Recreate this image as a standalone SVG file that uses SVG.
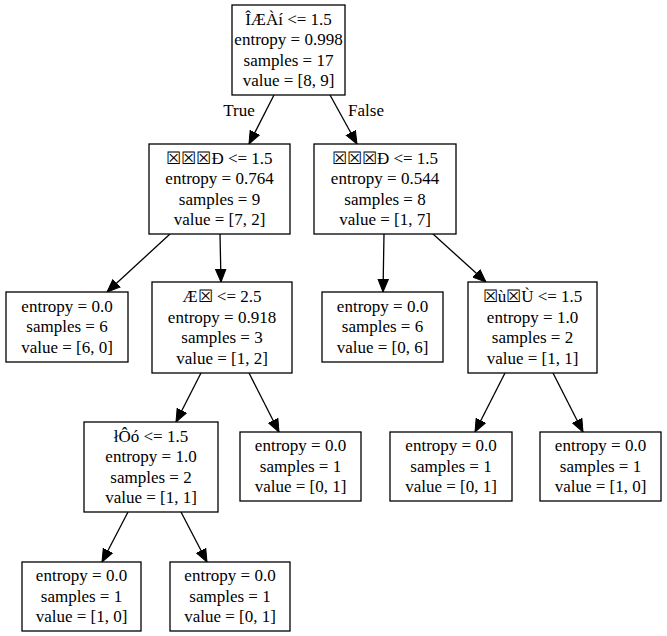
<svg xmlns="http://www.w3.org/2000/svg" width="667" height="636" viewBox="0 0 667 636">
<style>
rect{fill:#fff;stroke:#000;stroke-width:1.3}
text{font-family:"Liberation Serif","Times New Roman",serif;font-size:17px;text-anchor:middle;fill:#000}
.e line{stroke:#000;stroke-width:1.3}
</style>
<defs>
<marker id="a" markerUnits="userSpaceOnUse" markerWidth="14" markerHeight="12" refX="13" refY="6" orient="auto"><path d="M0,0.7 L13,6 L0,11.3 Z" fill="#000" stroke="#000"/></marker>
</defs>
<rect x="0" y="0" width="667" height="636" style="fill:#fff;stroke:none"/>
<g class="e" id="edges">
<line x1="274" y1="95" x2="249" y2="144" marker-end="url(#a)"/>
<line x1="330" y1="95" x2="357" y2="144" marker-end="url(#a)"/>
<line x1="170" y1="234" x2="107" y2="292" marker-end="url(#a)"/>
<line x1="220" y1="234" x2="221" y2="282" marker-end="url(#a)"/>
<line x1="384" y1="234" x2="383" y2="292" marker-end="url(#a)"/>
<line x1="433" y1="234" x2="486" y2="282" marker-end="url(#a)"/>
<line x1="201" y1="373" x2="176" y2="422" marker-end="url(#a)"/>
<line x1="249" y1="373" x2="279" y2="432" marker-end="url(#a)"/>
<line x1="505" y1="373" x2="475" y2="432" marker-end="url(#a)"/>
<line x1="553" y1="373" x2="583" y2="432" marker-end="url(#a)"/>
<line x1="128" y1="512" x2="102" y2="562" marker-end="url(#a)"/>
<line x1="181" y1="512" x2="207" y2="562" marker-end="url(#a)"/>
<text x="239" y="116">True</text>
<text x="366" y="116">False</text>
</g>
<g id="n0"><rect x="232" y="5" width="113" height="90"/>
<text x="288.5" y="24.5">ÎÆÀí &lt;= 1.5</text><text x="288.5" y="45">entropy = 0.998</text><text x="288.5" y="65.5">samples = 17</text><text x="288.5" y="86">value = [8, 9]</text></g>
<g id="n1"><rect x="149" y="144" width="141" height="90"/>
<text x="219.5" y="163.5">☒☒☒Ð &lt;= 1.5</text><text x="219.5" y="184">entropy = 0.764</text><text x="219.5" y="204.5">samples = 9</text><text x="219.5" y="225">value = [7, 2]</text></g>
<g id="n2"><rect x="6" y="292" width="122" height="70"/>
<text x="67" y="311.5">entropy = 0.0</text><text x="67" y="332">samples = 6</text><text x="67" y="352.5">value = [6, 0]</text></g>
<g id="n3"><rect x="152" y="282" width="140" height="91"/>
<text x="222" y="302">Æ☒ &lt;= 2.5</text><text x="222" y="322.5">entropy = 0.918</text><text x="222" y="343">samples = 3</text><text x="222" y="363.5">value = [1, 2]</text></g>
<g id="n4"><rect x="84" y="422" width="134" height="90"/>
<text x="151" y="441.5">łÔó &lt;= 1.5</text><text x="151" y="462">entropy = 1.0</text><text x="151" y="482.5">samples = 2</text><text x="151" y="503">value = [1, 1]</text></g>
<g id="n5"><rect x="22" y="562" width="119" height="69"/>
<text x="81.5" y="581">entropy = 0.0</text><text x="81.5" y="601.5">samples = 1</text><text x="81.5" y="622">value = [1, 0]</text></g>
<g id="n6"><rect x="170" y="562" width="120" height="69"/>
<text x="230" y="581">entropy = 0.0</text><text x="230" y="601.5">samples = 1</text><text x="230" y="622">value = [0, 1]</text></g>
<g id="n7"><rect x="240" y="432" width="121" height="69"/>
<text x="300.5" y="451">entropy = 0.0</text><text x="300.5" y="471.5">samples = 1</text><text x="300.5" y="492">value = [0, 1]</text></g>
<g id="n8"><rect x="314" y="144" width="142" height="90"/>
<text x="385" y="163.5">☒☒☒Ð &lt;= 1.5</text><text x="385" y="184">entropy = 0.544</text><text x="385" y="204.5">samples = 8</text><text x="385" y="225">value = [1, 7]</text></g>
<g id="n9"><rect x="322" y="292" width="121" height="70"/>
<text x="382.5" y="311.5">entropy = 0.0</text><text x="382.5" y="332">samples = 6</text><text x="382.5" y="352.5">value = [0, 6]</text></g>
<g id="n10"><rect x="468" y="282" width="129" height="91"/>
<text x="532.5" y="302">☒ù☒Ù &lt;= 1.5</text><text x="532.5" y="322.5">entropy = 1.0</text><text x="532.5" y="343">samples = 2</text><text x="532.5" y="363.5">value = [1, 1]</text></g>
<g id="n11"><rect x="390" y="432" width="122" height="69"/>
<text x="451" y="451">entropy = 0.0</text><text x="451" y="471.5">samples = 1</text><text x="451" y="492">value = [0, 1]</text></g>
<g id="n12"><rect x="540" y="432" width="121" height="69"/>
<text x="600.5" y="451">entropy = 0.0</text><text x="600.5" y="471.5">samples = 1</text><text x="600.5" y="492">value = [1, 0]</text></g>
</svg>
